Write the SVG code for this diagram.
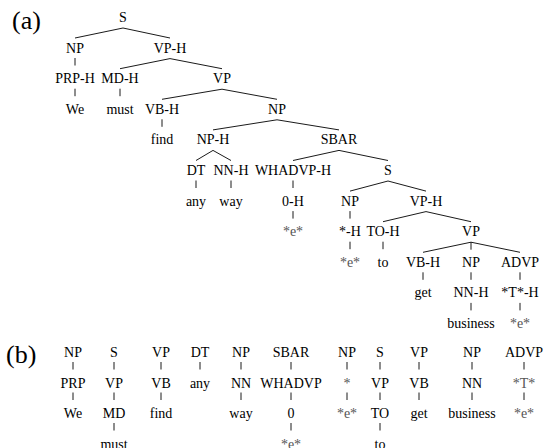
<svg xmlns="http://www.w3.org/2000/svg" width="545" height="448" viewBox="0 0 545 448">
<style>
text{font-family:"Liberation Serif","Times New Roman",serif;font-size:14px;fill:#000;text-anchor:middle}
.lbl{font-size:26px;text-anchor:start}
.tr{fill:#555}
#connectors line{stroke:#000;stroke-width:0.9;fill:none}
</style>
<rect width="545" height="448" fill="#fff"/>
<text class="lbl" x="12" y="28.5">(a)</text>
<text class="lbl" x="6" y="362.5">(b)</text>
<g id="connectors">
<!-- (a) branches: y1=pb+6, y2=cb-14.5 -->
<line x1="123" y1="28" x2="75" y2="38"/>
<line x1="123" y1="28" x2="170" y2="38"/>
<line x1="75" y1="58" x2="75" y2="65.5"/>
<line x1="75" y1="88.7" x2="75" y2="96.2"/>
<line x1="170" y1="58.6" x2="120" y2="68.7"/>
<line x1="170" y1="58.6" x2="222" y2="68.7"/>
<line x1="120" y1="88.7" x2="120" y2="96.2"/>
<line x1="222" y1="89.2" x2="162" y2="99.3"/>
<line x1="222" y1="89.2" x2="277" y2="99.3"/>
<line x1="162" y1="119.3" x2="162" y2="126.8"/>
<line x1="277" y1="119.8" x2="213" y2="129.9"/>
<line x1="277" y1="119.8" x2="339" y2="129.9"/>
<line x1="213" y1="150.4" x2="196" y2="160.5"/>
<line x1="213" y1="150.4" x2="231" y2="160.5"/>
<line x1="339" y1="150.4" x2="293" y2="160.5"/>
<line x1="339" y1="150.4" x2="388" y2="160.5"/>
<line x1="196" y1="180.5" x2="196" y2="188"/>
<line x1="231" y1="180.5" x2="231" y2="188"/>
<line x1="293" y1="180.5" x2="293" y2="188"/>
<line x1="388" y1="181" x2="350" y2="191.1"/>
<line x1="388" y1="181" x2="426" y2="191.1"/>
<line x1="293" y1="211.1" x2="293" y2="218.6"/>
<line x1="350" y1="211.1" x2="350" y2="218.6"/>
<line x1="426" y1="211.6" x2="383" y2="221.7"/>
<line x1="426" y1="211.6" x2="471" y2="221.7"/>
<line x1="350" y1="241.7" x2="350" y2="249.2"/>
<line x1="383" y1="241.7" x2="383" y2="249.2"/>
<line x1="471" y1="242.2" x2="423" y2="252.3"/>
<line x1="471" y1="242.2" x2="471" y2="249.7"/>
<line x1="471" y1="242.2" x2="520" y2="252.3"/>
<line x1="423" y1="272.3" x2="423" y2="279.8"/>
<line x1="471" y1="272.3" x2="471" y2="279.8"/>
<line x1="520" y1="272.3" x2="520" y2="279.8"/>
<line x1="471" y1="302.9" x2="471" y2="310.4"/>
<line x1="520" y1="302.9" x2="520" y2="310.4"/>
<!-- (b) -->
<line x1="73" y1="362" x2="73" y2="369.5"/>
<line x1="73" y1="392.5" x2="73" y2="400"/>
<line x1="114" y1="362" x2="114" y2="369.5"/>
<line x1="114" y1="392.5" x2="114" y2="400"/>
<line x1="114" y1="423" x2="114" y2="430.5"/>
<line x1="161" y1="362" x2="161" y2="369.5"/>
<line x1="161" y1="392.5" x2="161" y2="400"/>
<line x1="200" y1="362" x2="200" y2="369.5"/>
<line x1="241" y1="362" x2="241" y2="369.5"/>
<line x1="241" y1="392.5" x2="241" y2="400"/>
<line x1="291" y1="362" x2="291" y2="369.5"/>
<line x1="291" y1="392.5" x2="291" y2="400"/>
<line x1="291" y1="423" x2="291" y2="430.5"/>
<line x1="347" y1="362" x2="347" y2="369.5"/>
<line x1="347" y1="392.5" x2="347" y2="400"/>
<line x1="380" y1="362" x2="380" y2="369.5"/>
<line x1="380" y1="392.5" x2="380" y2="400"/>
<line x1="380" y1="423" x2="380" y2="430.5"/>
<line x1="419" y1="362" x2="419" y2="369.5"/>
<line x1="419" y1="392.5" x2="419" y2="400"/>
<line x1="472" y1="362" x2="472" y2="369.5"/>
<line x1="472" y1="392.5" x2="472" y2="400"/>
<line x1="524" y1="362" x2="524" y2="369.5"/>
<line x1="524" y1="392.5" x2="524" y2="400"/>
</g>
<!-- (a) tree nodes -->
<g id="a_S"><text x="123" y="22">S</text></g>
<g id="a_NP1"><text x="75" y="52.6">NP</text></g>
<g id="a_VPH1"><text x="170" y="52.6">VP-H</text></g>
<g id="a_PRPH"><text x="75" y="83.2">PRP-H</text></g>
<g id="a_MDH"><text x="120" y="83.2">MD-H</text></g>
<g id="a_VP1"><text x="222" y="83.2">VP</text></g>
<g id="a_We"><text x="75" y="113.8">We</text></g>
<g id="a_must"><text x="120" y="113.8">must</text></g>
<g id="a_VBH1"><text x="162" y="113.8">VB-H</text></g>
<g id="a_NP2"><text x="277" y="113.8">NP</text></g>
<g id="a_find"><text x="162" y="144.4">find</text></g>
<g id="a_NPH"><text x="213" y="144.4">NP-H</text></g>
<g id="a_SBAR"><text x="339" y="144.4">SBAR</text></g>
<g id="a_DT"><text x="196" y="175">DT</text></g>
<g id="a_NNH1"><text x="231" y="175">NN-H</text></g>
<g id="a_WHADVPH"><text x="293" y="175">WHADVP-H</text></g>
<g id="a_S2"><text x="388" y="175">S</text></g>
<g id="a_any"><text x="196" y="205.6">any</text></g>
<g id="a_way"><text x="231" y="205.6">way</text></g>
<g id="a_0H"><text x="293" y="205.6">0-H</text></g>
<g id="a_NP3"><text x="350" y="205.6">NP</text></g>
<g id="a_VPH2"><text x="426" y="205.6">VP-H</text></g>
<g id="a_e1"><text class="tr" x="293" y="236.2">*e*</text></g>
<g id="a_starH"><text x="350" y="236.2">*-H</text></g>
<g id="a_TOH"><text x="383" y="236.2">TO-H</text></g>
<g id="a_VP2"><text x="471" y="236.2">VP</text></g>
<g id="a_e2"><text class="tr" x="350" y="266.8">*e*</text></g>
<g id="a_to"><text x="383" y="266.8">to</text></g>
<g id="a_VBH2"><text x="423" y="266.8">VB-H</text></g>
<g id="a_NP4"><text x="471" y="266.8">NP</text></g>
<g id="a_ADVP"><text x="520" y="266.8">ADVP</text></g>
<g id="a_get"><text x="423" y="297.4">get</text></g>
<g id="a_NNH2"><text x="471" y="297.4">NN-H</text></g>
<g id="a_TH"><text x="520" y="297.4">*T*-H</text></g>
<g id="a_business"><text x="471" y="328">business</text></g>
<g id="a_e3"><text class="tr" x="520" y="328">*e*</text></g>
<!-- (b) chains -->
<g id="b1"><text x="73" y="357">NP</text><text x="73" y="387.5">PRP</text><text x="73" y="418">We</text></g>
<g id="b2"><text x="114" y="357">S</text><text x="114" y="387.5">VP</text><text x="114" y="418">MD</text><text x="114" y="448.5">must</text></g>
<g id="b3"><text x="161" y="357">VP</text><text x="161" y="387.5">VB</text><text x="161" y="418">find</text></g>
<g id="b4"><text x="200" y="357">DT</text><text x="200" y="387.5">any</text></g>
<g id="b5"><text x="241" y="357">NP</text><text x="241" y="387.5">NN</text><text x="241" y="418">way</text></g>
<g id="b6"><text x="291" y="357">SBAR</text><text x="291" y="387.5">WHADVP</text><text x="291" y="418">0</text><text class="tr" x="291" y="448.5">*e*</text></g>
<g id="b7"><text x="347" y="357">NP</text><text class="tr" x="347" y="387.5">*</text><text class="tr" x="347" y="418">*e*</text></g>
<g id="b8"><text x="380" y="357">S</text><text x="380" y="387.5">VP</text><text x="380" y="418">TO</text><text x="380" y="448.5">to</text></g>
<g id="b9"><text x="419" y="357">VP</text><text x="419" y="387.5">VB</text><text x="419" y="418">get</text></g>
<g id="b10"><text x="472" y="357">NP</text><text x="472" y="387.5">NN</text><text x="472" y="418">business</text></g>
<g id="b11"><text x="524" y="357">ADVP</text><text class="tr" x="524" y="387.5">*T*</text><text class="tr" x="524" y="418">*e*</text></g>
</svg>
